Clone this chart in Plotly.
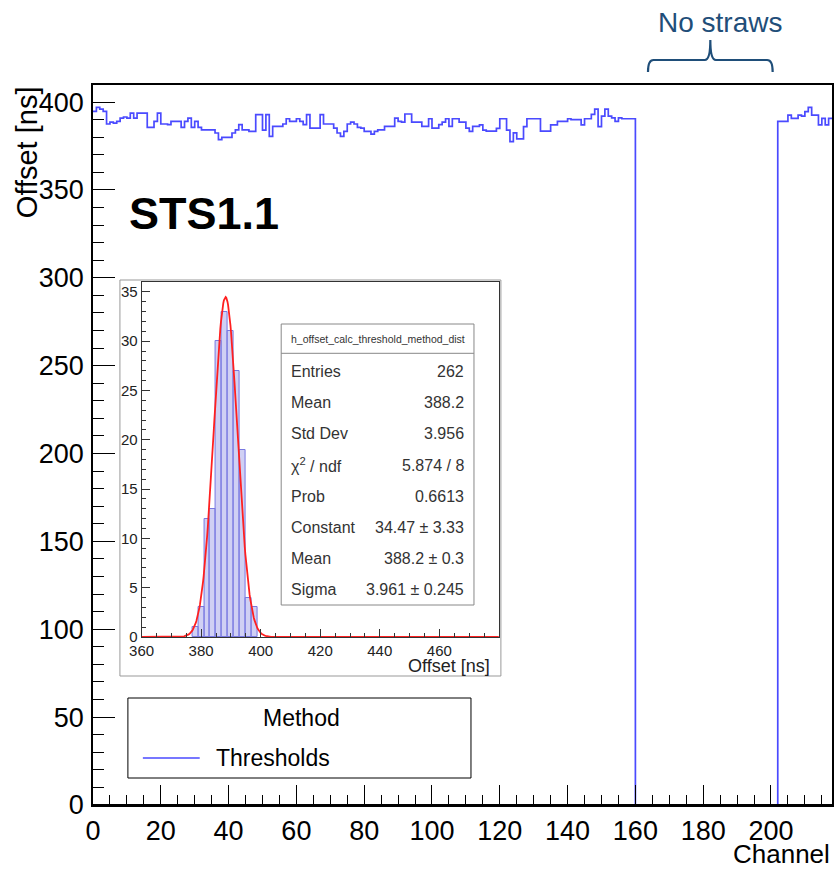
import numpy as np
import plotly.graph_objects as go

# ---------------- data ----------------
offsets_a = [394.7, 397, 396, 394.7, 387.5, 388.6, 388, 389, 390.9, 391.5,
             390.9, 393.7, 390.9, 393.7, 393.7, 393.7, 385.6, 385.6, 389, 393.7,
             387.5, 387.5, 387.1, 389, 389, 389, 385.6, 389, 390.9, 385.6,
             389, 385.6, 384.2, 384.2, 384.2, 384.2, 382.4, 378.6, 379.9, 379.9,
             379.9, 382.4, 384.2, 387.1, 384.2, 384.2, 383.3, 383.3, 392.8, 392.8,
             384, 392.8, 380.5, 386.2, 386.2, 386.2, 387.5, 390.5, 389, 389,
             390.5, 389, 387.1, 392.8, 385.2, 385.2, 385.2, 392.8, 387.5, 387.5,
             387.5, 385.2, 382.4, 380.5, 383.3, 387.5, 388.6, 387.5, 385.6, 385.2,
             383.3, 383.3, 381.8, 383.3, 384.2, 384.2, 386.2, 386.2, 386.2, 390.9,
             389, 388.6, 393.2, 393.2, 388.6, 388.6, 388.6, 386.2, 386.2, 390.5,
             385.2, 385.2, 387.1, 388.6, 390.5, 386.2, 390.5, 390.5, 388.6, 388.6,
             385.2, 383.3, 386.2, 386.2, 387, 384, 383.5, 383.5, 383.5, 385,
             390.5, 390.5, 384, 377.5, 382.5, 379, 379, 386, 390.5, 390.5,
             390.5, 390.5, 383.5, 383.5, 383.5, 387, 387, 389, 389, 389,
             390.5, 390, 390, 390, 387, 390.5, 390.5, 393, 396, 386,
             392, 396, 392, 391, 389, 391, 390.5, 390.5, 390.5, 390.5]
offsets_gap = [0] * 42
offsets_b = [389, 389, 389, 392.6, 390.7, 390.7, 392.6, 392, 394.5, 397,
             392.6, 392.6, 387, 390.7, 387, 390.7]
offsets = offsets_a + offsets_gap + offsets_b
channels = list(range(len(offsets)))          # bin low edges 0..217
n_channels = len(offsets)

dist_centers = [378, 380, 382, 384, 386, 388, 390, 392, 394, 396, 398]
dist_counts = [1, 3, 12, 13, 30, 33, 31, 27, 19, 4, 3]
dist_bin_width = 2

fit_constant = 34.47
fit_mean = 388.2
fit_sigma = 3.961

stats_title = "h_offset_calc_threshold_method_dist"
stats_labels = ["Entries", "Mean", "Std Dev", "χ<sup>2</sup> / ndf", "Prob",
                "Constant", "Mean", "Sigma"]
stats_values = ["262", "388.2", "3.956", "5.874 / 8", "0.6613",
                "34.47 ± 3.33", "388.2 ± 0.3", "3.961 ± 0.245"]

main_xticks = list(range(0, 201, 20))
main_yticks = list(range(0, 401, 50))
inset_xticks = list(range(360, 461, 20))
inset_yticks = list(range(0, 36, 5))

# ---------------- figure ----------------
FONT = "Liberation Sans, Arial, sans-serif"
BLUE = "#4a4aff"
fig = go.Figure()

# main step histogram
fig.add_trace(go.Scatter(
    x=channels + [n_channels], y=offsets + [offsets[-1]],
    mode="lines", line=dict(color=BLUE, width=1.7, shape="hv"),
    showlegend=False, hoverinfo="skip", xaxis="x", yaxis="y"))

# inset histogram
fig.add_trace(go.Bar(
    x=dist_centers, y=dist_counts, width=[dist_bin_width] * len(dist_centers),
    marker=dict(color="rgba(150,150,230,0.45)",
                line=dict(color="rgb(120,120,225)", width=1)),
    showlegend=False, xaxis="x2", yaxis="y2"))

# gaussian fit curve from the fit parameters
xf = np.linspace(360, 480, 600)
yf = fit_constant * np.exp(-0.5 * ((xf - fit_mean) / fit_sigma) ** 2)
fig.add_trace(go.Scatter(x=xf, y=yf, mode="lines",
                         line=dict(color="#ff2020", width=1.8),
                         showlegend=False, xaxis="x2", yaxis="y2"))

# ---------------- layout ----------------
L, R, T, B = 93, 2, 85, 65
W, H = 836, 870
pw, ph = W - L - R, H - T - B


def px(xp):
    return (xp - L) / pw


def py(yp):
    return (H - B - yp) / ph


fig.update_layout(
    width=W, height=H, margin=dict(l=L, r=R, t=T, b=B),
    paper_bgcolor="white", plot_bgcolor="white",
    font=dict(family=FONT, color="black"),
    bargap=0,
    xaxis=dict(range=[0, n_channels], tickvals=main_xticks, ticks="inside",
               ticklen=20, tickwidth=1, tickcolor="black",
               minor=dict(dtick=5, ticks="inside", ticklen=10, tickcolor="black"),
               showline=True, linecolor="black", linewidth=1.5, mirror=True,
               showgrid=False, zeroline=False, tickfont=dict(size=27),
               ticklabelstandoff=1, layer="above traces"),
    yaxis=dict(range=[0, 409.7], tickvals=main_yticks, ticks="inside",
               ticklen=22, tickwidth=1, tickcolor="black",
               minor=dict(dtick=10, ticks="inside", ticklen=11, tickcolor="black"),
               showline=True, linecolor="black", linewidth=1.5, mirror=True,
               showgrid=False, zeroline=False, tickfont=dict(size=27),
               ticklabelstandoff=2, layer="above traces"),
    xaxis2=dict(domain=[px(141.7), px(500)], anchor="y2", range=[360, 480],
                tickvals=inset_xticks, ticks="inside", ticklen=8,
                tickcolor="#333",
                minor=dict(dtick=5, ticks="inside", ticklen=4, tickcolor="#333"),
                showline=True, linecolor="#333", linewidth=1, mirror=True,
                showgrid=False, zeroline=False, ticklabelstandoff=0,
                tickfont=dict(size=15, color="#222")),
    yaxis2=dict(domain=[py(637), py(282)], anchor="x2", range=[0, 36],
                tickvals=inset_yticks, ticks="inside", ticklen=8,
                tickcolor="#333",
                minor=dict(dtick=1, ticks="inside", ticklen=4, tickcolor="#333"),
                showline=True, linecolor="#333", linewidth=1, mirror=True,
                showgrid=False, zeroline=False,
                tickfont=dict(size=15, color="#222")),
)

shapes = []
ann = []


def text(t, x, y, size, xanchor="center", color="black", **kw):
    ann.append(dict(text=t, xref="paper", yref="paper", x=px(x), y=py(y),
                    xanchor=xanchor, yanchor="middle", showarrow=False,
                    font=dict(size=size, color=color), **kw))


# frame bottom edge drawn over the histogram's zero-level segment (as in ROOT)
shapes.append(dict(type="line", xref="paper", yref="paper",
                   x0=0, x1=1, y0=0, y1=0,
                   line=dict(color="black", width=2), layer="above"))

# inset pad
shapes.append(dict(type="rect", xref="paper", yref="paper",
                   x0=px(120), x1=px(502), y0=py(676), y1=py(280),
                   line=dict(color="#999", width=1), fillcolor="white",
                   layer="below"))
# stats box
shapes.append(dict(type="rect", xref="paper", yref="paper",
                   x0=px(281.7), x1=px(475), y0=py(605), y1=py(324),
                   line=dict(color="#888", width=1), fillcolor="white"))
shapes.append(dict(type="line", xref="paper", yref="paper",
                   x0=px(281.7), x1=px(475), y0=py(353.3), y1=py(353.3),
                   line=dict(color="#888", width=1)))
text(stats_title, 378.3, 339.3, 10.5, color="#333")
for i, (lab, val) in enumerate(zip(stats_labels, stats_values)):
    yy = 371.7 + i * 31.1
    text(lab, 289.5, yy, 16, xanchor="left", color="#333")
    text(val, 467, yy, 16, xanchor="right", color="#333")

# inset x title
text("Offset [ns]", 493, 666, 18, xanchor="right", color="#222")

# main axis titles
ann.append(dict(text="Offset [ns]", xref="paper", yref="paper",
                x=px(27), y=py(84), xanchor="center", yanchor="top",
                textangle=-90, showarrow=False, font=dict(size=29)))
text("Channel", 834, 854, 26, xanchor="right")

# STS1.1 label
text("<b>STS1.1</b>", 127, 213, 45, xanchor="left")

# legend box (manual, ROOT style)
shapes.append(dict(type="rect", xref="paper", yref="paper",
                   x0=px(128), x1=px(472), y0=py(778), y1=py(698),
                   line=dict(color="black", width=1), fillcolor="white"))
text("Method", 302, 718, 23)
shapes.append(dict(type="line", xref="paper", yref="paper",
                   x0=px(143), x1=px(200), y0=py(758), y1=py(758),
                   line=dict(color=BLUE, width=1.7)))
text("Thresholds", 214, 758, 23, xanchor="left")

# "No straws" bracket
NAVY = "#1f4e79"


def bx(xp):
    return (xp - L) / pw * n_channels


xa, xc, xb = bx(649.5), bx(712), bx(774.5)
y_leg, y_bar, y_tip = py(72), py(60), py(40)
dxs = bx(655) - bx(649.5)
path = (f"M {xa},{y_leg} Q {xa},{y_bar} {xa+dxs},{y_bar} "
        f"L {xc-dxs},{y_bar} Q {xc},{y_bar} {xc},{y_tip} "
        f"Q {xc},{y_bar} {xc+dxs},{y_bar} "
        f"L {xb-dxs},{y_bar} Q {xb},{y_bar} {xb},{y_leg}")
shapes.append(dict(type="path", xref="x", yref="paper", path=path,
                   line=dict(color=NAVY, width=2.2)))
text("No straws", 722, 22, 28, color=NAVY)

fig.update_layout(shapes=shapes, annotations=ann)
fig.write_html("out.html")
